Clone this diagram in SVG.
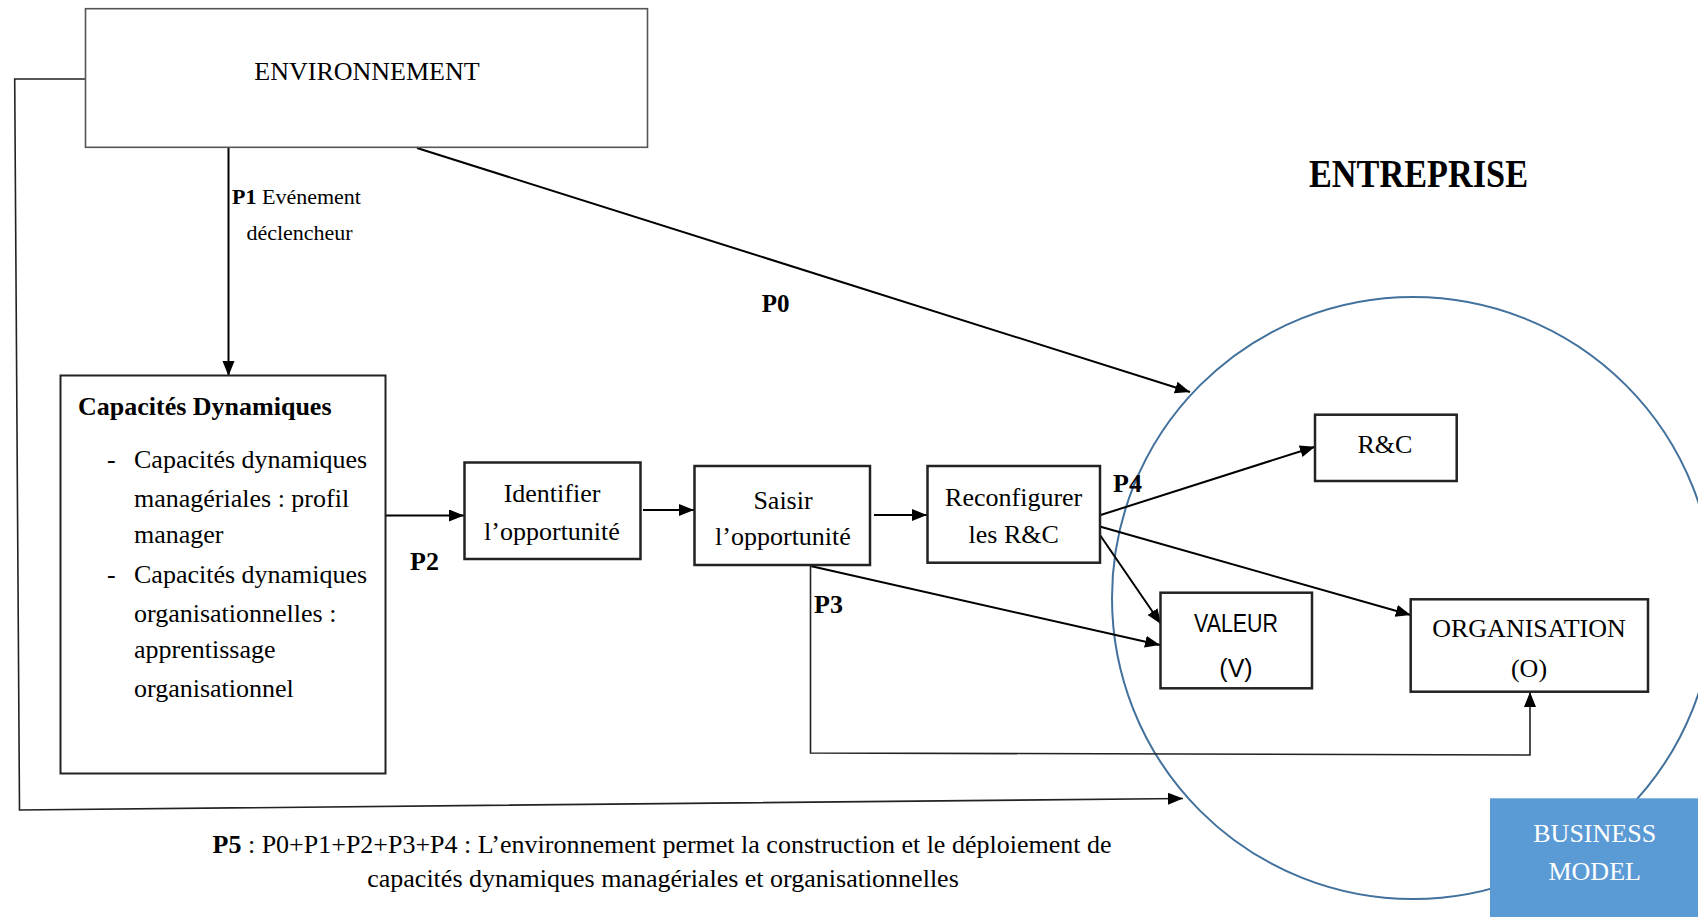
<svg xmlns="http://www.w3.org/2000/svg" width="1698" height="917" viewBox="0 0 1698 917">
<defs>
<style>
text{font-family:"Liberation Serif","Times New Roman",serif;fill:#000;}
.t26{font-size:26px;}
.b{font-weight:bold;}
.mid{text-anchor:middle;}
.box{fill:#fff;stroke:#222;stroke-width:2.5;}
.conn{fill:none;stroke:#000;stroke-width:2;}
.thin{fill:none;stroke:#222;stroke-width:1.6;}
</style>
<marker id="ah" markerUnits="userSpaceOnUse" markerWidth="16" markerHeight="14" refX="15" refY="6" orient="auto">
<path d="M0,0 L15,6 L0,12 z" fill="#000"/>
</marker>
</defs>
<rect width="1698" height="917" fill="#fff"/>

<g id="entreprise-circle">
<circle cx="1413" cy="598" r="301" fill="none" stroke="#41719C" stroke-width="2"/>
</g>

<g id="entreprise-title">
<text x="1309" y="187" class="b" font-size="40" textLength="219" lengthAdjust="spacingAndGlyphs">ENTREPRISE</text>
</g>

<g id="connectors">
<polyline class="thin" points="85.5,79 14.7,79 19.5,810 1183,798.5" marker-end="url(#ah)"/>
<line class="conn" x1="228.5" y1="148" x2="228.5" y2="376" marker-end="url(#ah)"/>
<line class="conn" x1="417" y1="148" x2="1190" y2="392" marker-end="url(#ah)"/>
<line class="conn" x1="385.5" y1="515.5" x2="464" y2="515.5" marker-end="url(#ah)"/>
<line class="conn" x1="643" y1="510" x2="694" y2="510" marker-end="url(#ah)"/>
<line class="conn" x1="874" y1="515" x2="927" y2="515" marker-end="url(#ah)"/>
<line class="conn" x1="1100.7" y1="515" x2="1315" y2="446.7" marker-end="url(#ah)"/>
<line class="conn" x1="1100.7" y1="526.7" x2="1410.7" y2="615" marker-end="url(#ah)"/>
<line class="conn" x1="1098.6" y1="533" x2="1161" y2="624" marker-end="url(#ah)"/>
<line class="conn" x1="810.5" y1="566" x2="1160" y2="645" marker-end="url(#ah)"/>
<polyline class="thin" points="810.5,566 810.5,753 1530,755 1530,692" marker-end="url(#ah)"/>
</g>

<g id="labels">
<text x="232" y="204" font-size="22"><tspan class="b">P1</tspan> Evénement</text>
<text x="246.4" y="240" font-size="22">déclencheur</text>
<text x="761.7" y="311.7" class="b" font-size="25">P0</text>
<text x="410" y="570" class="t26 b">P2</text>
<text x="814" y="613" class="t26 b">P3</text>
<text x="1113" y="491.7" class="t26 b">P4</text>
<text x="662" y="853.3" class="t26 mid"><tspan class="b">P5</tspan> : P0+P1+P2+P3+P4 : L’environnement permet la construction et le déploiement de</text>
<text x="663" y="886.7" class="t26 mid">capacités dynamiques managériales et organisationnelles</text>
</g>

<g id="environnement">
<rect x="85.5" y="8.7" width="562" height="138.6" fill="#fff" stroke="#555" stroke-width="1.6"/>
<text x="367" y="80" class="t26 mid">ENVIRONNEMENT</text>
</g>

<g id="capacites">
<rect x="60.5" y="375.5" width="325" height="398" fill="#fff" stroke="#222" stroke-width="2"/>
<text x="78" y="415" class="t26 b">Capacités Dynamiques</text>
<text x="107" y="468" class="t26">-</text>
<text x="134" y="468" class="t26">Capacités dynamiques</text>
<text x="134" y="506.7" class="t26">managériales : profil</text>
<text x="134" y="543" class="t26">manager</text>
<text x="107" y="583" class="t26">-</text>
<text x="134" y="583" class="t26">Capacités dynamiques</text>
<text x="134" y="621.7" class="t26">organisationnelles :</text>
<text x="134" y="658" class="t26">apprentissage</text>
<text x="134" y="696.7" class="t26">organisationnel</text>
</g>

<g id="identifier">
<rect class="box" x="464.5" y="462.5" width="176" height="96.5"/>
<text x="552" y="501.7" class="t26 mid">Identifier</text>
<text x="552" y="540" class="t26 mid">l’opportunité</text>
</g>

<g id="saisir">
<rect class="box" x="694.5" y="466" width="175.5" height="99"/>
<text x="783" y="509" class="t26 mid">Saisir</text>
<text x="783" y="545" class="t26 mid">l’opportunité</text>
</g>

<g id="reconfigurer">
<rect class="box" x="927.5" y="466" width="172.5" height="96.7"/>
<text x="1013.7" y="506" class="t26 mid">Reconfigurer</text>
<text x="1013.7" y="543" class="t26 mid">les R&amp;C</text>
</g>

<g id="rc">
<rect class="box" x="1315" y="414.7" width="141.7" height="66.3"/>
<text x="1385" y="453" class="t26 mid">R&amp;C</text>
</g>

<g id="valeur">
<rect class="box" x="1160.5" y="592.7" width="151.5" height="95.6"/>
<text x="1236" y="631.7" font-size="25" class="mid" style="font-family:'Liberation Sans',Arial,sans-serif" textLength="84" lengthAdjust="spacingAndGlyphs">VALEUR</text>
<text x="1236" y="676.7" font-size="25" class="mid" style="font-family:'Liberation Sans',Arial,sans-serif">(V)</text>
</g>

<g id="organisation">
<rect class="box" x="1410.7" y="599.3" width="237.3" height="92.4"/>
<text x="1529" y="637.3" class="t26 mid">ORGANISATION</text>
<text x="1529" y="676.7" class="t26 mid">(O)</text>
</g>

<g id="business-model">
<rect x="1490" y="798.3" width="208" height="118.7" fill="#5B9BD5"/>
<text x="1594.7" y="841.7" class="t26 mid" style="fill:#fff">BUSINESS</text>
<text x="1594.7" y="880" class="t26 mid" style="fill:#fff">MODEL</text>
</g>
</svg>
